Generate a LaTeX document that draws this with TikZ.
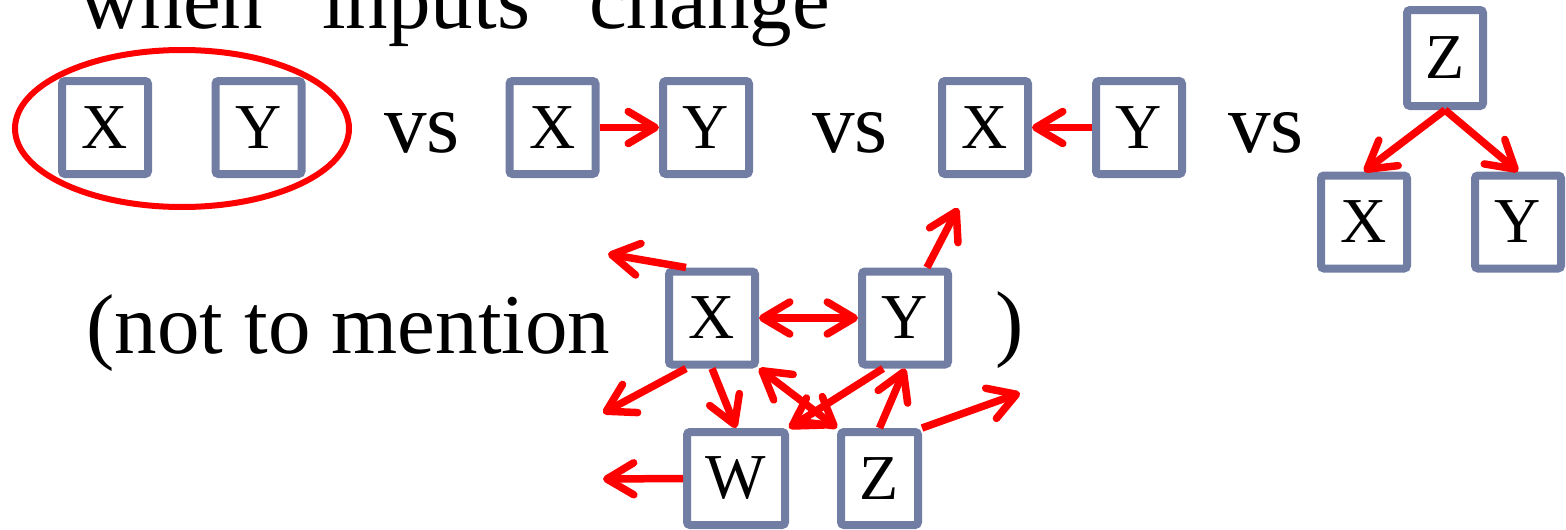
\documentclass[tikz,border=0pt]{standalone}
\usepackage{fontspec}
\setmainfont{Liberation Serif}
\usetikzlibrary{arrows.meta,calc}
\definecolor{boxc}{RGB}{113,125,163}
\definecolor{arrc}{RGB}{255,0,0}
\tikzset{
  vbox/.style={draw=boxc, line width=8pt, rounded corners=3pt, fill=white,
    minimum width=86pt, minimum height=93pt, inner sep=0pt, outer sep=4pt,
    font=\fontsize{64}{64}\selectfont},
  bigtext/.style={inner sep=0pt, font=\fontsize{85}{85}\selectfont},
  redarr/.style={draw=arrc, line width=7.5pt,
    -{Straight Barb[length=27pt,width=32pt,round]}},
  redarr2/.style={draw=arrc, line width=7.5pt,
    {Straight Barb[length=27pt,width=32pt,round]}-{Straight Barb[length=27pt,width=32pt,round]}},
}
\begin{document}
\begin{tikzpicture}[x=1pt,y=-1pt]
\useasboundingbox (0,0) rectangle (1566,530);
\clip (0,0) rectangle (1566,530);
% heading (cut at top)
\node[bigtext, anchor=base west] (head) at (79,28) {when “inputs” change};
% group 1
\draw[arrc, line width=6pt] (182,128.5) ellipse [x radius=167, y radius=78.5];
\node[vbox] (X1) at (105,127.5) {X};
\node[vbox] (Y1) at (258.5,127.5) {Y};
\node[bigtext, anchor=base] (vs1) at (422,152) {vs};
% group 2
\node[vbox] (X2) at (552.5,127.5) {X};
\node[vbox] (Y2) at (706,127.5) {Y};
\draw[redarr] (X2.east) -- (Y2.west);
\node[bigtext, anchor=base] (vs2) at (850,152) {vs};
% group 3
\node[vbox] (X3) at (985,127.5) {X};
\node[vbox] (Y3) at (1139,127.5) {Y};
\draw[redarr] (Y3.west) -- (X3.east);
\node[bigtext, anchor=base] (vs3) at (1266,152) {vs};
% group 4
\node[vbox, minimum width=76pt, minimum height=96pt] (Z4) at (1445,58) {Z};
\node[vbox] (X4) at (1364,222) {X};
\node[vbox] (Y4) at (1518,222) {Y};
\draw[redarr] (Z4.south) -- (X4.north);
\draw[redarr] (Z4.south) -- (Y4.north);
% bottom
\node[bigtext, anchor=base west] (nt) at (86,353) {(not to mention};
\node[bigtext, anchor=base] (rp) at (1010,350) {)};
\node[vbox] (X5) at (712,318) {X};
\node[vbox] (Y5) at (905,318) {Y};
\node[vbox, minimum width=98pt] (W5) at (736,478.5) {W};
\node[vbox, minimum width=77pt] (Z5) at (879.5,478.5) {Z};
\coordinate (f1) at (608,254);
\coordinate (f2) at (958,208);
\coordinate (f3) at (603,413);
\coordinate (f4) at (1020,393);
\coordinate (f5) at (603,479);
\draw[redarr] ([xshift=-26pt]X5.north) -- (f1);
\draw[redarr] ([xshift=22pt]Y5.north) -- (f2);
\draw[redarr2] (X5.east) -- (Y5.west);
\draw[redarr] ([xshift=-26pt]X5.south) -- (f3);
\draw[redarr] (X5.south) -- (W5.north);
\draw[redarr2] (X5.south east) -- (Z5.north west);
\draw[redarr] ([xshift=-22pt]Y5.south) -- (W5.north east);
\draw[redarr] (Z5.north) -- (Y5.south);
\draw[redarr] (Z5.north east) -- (f4);
\draw[redarr] (W5.west) -- (f5);
\end{tikzpicture}
\end{document}
